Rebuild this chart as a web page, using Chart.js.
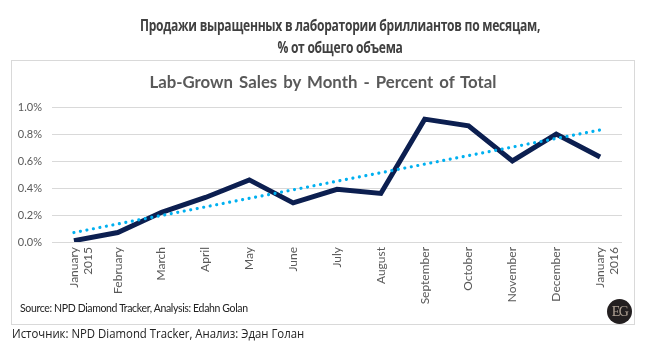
<!DOCTYPE html>
<html>
<head>
<meta charset="utf-8">
<script src="https://cdn.jsdelivr.net/npm/chart.js@4"></script>
<style>
  html, body { margin: 0; padding: 0; background: #fff; }
  #wrap { position: relative; width: 646px; height: 351px; overflow: hidden; }
  #title { position: absolute; left: 40px; width: 600px; top: 14px; text-align: center;
           font-family: "Open Sans", sans-serif; font-weight: bold; font-size: 16px; line-height: 22px;
           color: #404040; letter-spacing: -0.35px; transform: scaleX(0.755); transform-origin: 300px 0; }
  #box { position: absolute; left: 11px; top: 60px; width: 622px; height: 263px; border: 1px solid #d9d9d9; }
  #sub { position: absolute; left: 0; width: 646px; top: 71px; text-align: center;
         font-family: "Lato", sans-serif; font-weight: bold; font-size: 16.8px; color: #595959; word-spacing: 2px; }
  #source { position: absolute; left: 20px; top: 302px; font-family: "Lato", sans-serif; font-size: 10.5px;
            color: #222; letter-spacing: -0.35px; }
  #badge { position: absolute; left: 607px; top: 299px; width: 25px; height: 25px; border-radius: 50%;
           background: #231f20; color: #b0a294; font-family: "Liberation Serif", serif; font-size: 14px;
           line-height: 25px; text-align: center; letter-spacing: -1.5px; }
  #caption { position: absolute; left: 12px; top: 325px; font-family: "Open Sans", sans-serif; font-size: 12.5px;
             color: #222; transform: scaleX(0.91); transform-origin: 0 0; white-space: nowrap; }
  canvas { position: absolute; left: 0; top: 0; }
</style>
</head>
<body>
<div id="wrap">
  <div id="box"></div>
  <canvas id="c" width="646" height="351"></canvas>
  <div id="title">Продажи выращенных в лаборатории бриллиантов по месяцам,<br>% от общего объема</div>
  <div id="sub">Lab-Grown Sales by Month - Percent of Total</div>
  <div id="source">Source: NPD Diamond Tracker, Analysis: Edahn Golan</div>
  <div id="badge">EG</div>
  <div id="caption">Источник: NPD Diamond Tracker, Анализ: Эдан Голан</div>
</div>
<script>
const months = [["January","2015"],"February","March","April","May","June","July","August","September","October","November","December",["January","2016"]];
const salesPct = [0.01, 0.07, 0.22, 0.33, 0.46, 0.29, 0.39, 0.36, 0.91, 0.86, 0.60, 0.80, 0.63];
const trendPct = [0.07, null, null, null, null, null, null, null, null, null, null, null, 0.83];
const yTicks = [0, 0.2, 0.4, 0.6, 0.8, 1.0];

new Chart(document.getElementById('c'), {
  type: 'line',
  data: {
    labels: months,
    datasets: [
      { label: 'Trend', data: trendPct, spanGaps: true, borderColor: '#00b0f0', borderWidth: 3.2,
        borderDash: [0.01, 6.6], borderCapStyle: 'round', pointRadius: 0, fill: false, order: 0 },
      { label: 'Sales', data: salesPct, borderColor: '#0c1f50', borderWidth: 5, pointRadius: 0,
        tension: 0, fill: false, borderJoinStyle: 'miter', order: 1 }
    ]
  },
  options: {
    responsive: false,
    animation: false,
    layout: { padding: { top: 107, right: 24, left: 0, bottom: 0 } },
    plugins: { legend: { display: false }, title: { display: false }, tooltip: { enabled: false } },
    scales: {
      x: {
        offset: true,
        grid: { display: false, drawTicks: false },
        border: { display: false },
        ticks: { autoSkip: false, minRotation: 90, maxRotation: 90, padding: 5,
                 color: '#595959', font: { family: 'Lato', size: 12 } },
        afterFit: (s) => { s.height = 109; }
      },
      y: {
        min: 0, max: 1.0,
        afterBuildTicks: (s) => { s.ticks = yTicks.map(v => ({ value: v })); },
        grid: { color: '#d9d9d9', lineWidth: 1, drawTicks: false },
        border: { display: false },
        ticks: { padding: 10, color: '#595959', font: { family: 'Lato', size: 11 },
                 callback: (v) => v.toFixed(1) + '%' },
        afterFit: (s) => { s.width = 52; }
      }
    }
  }
});
</script>
</body>
</html>
